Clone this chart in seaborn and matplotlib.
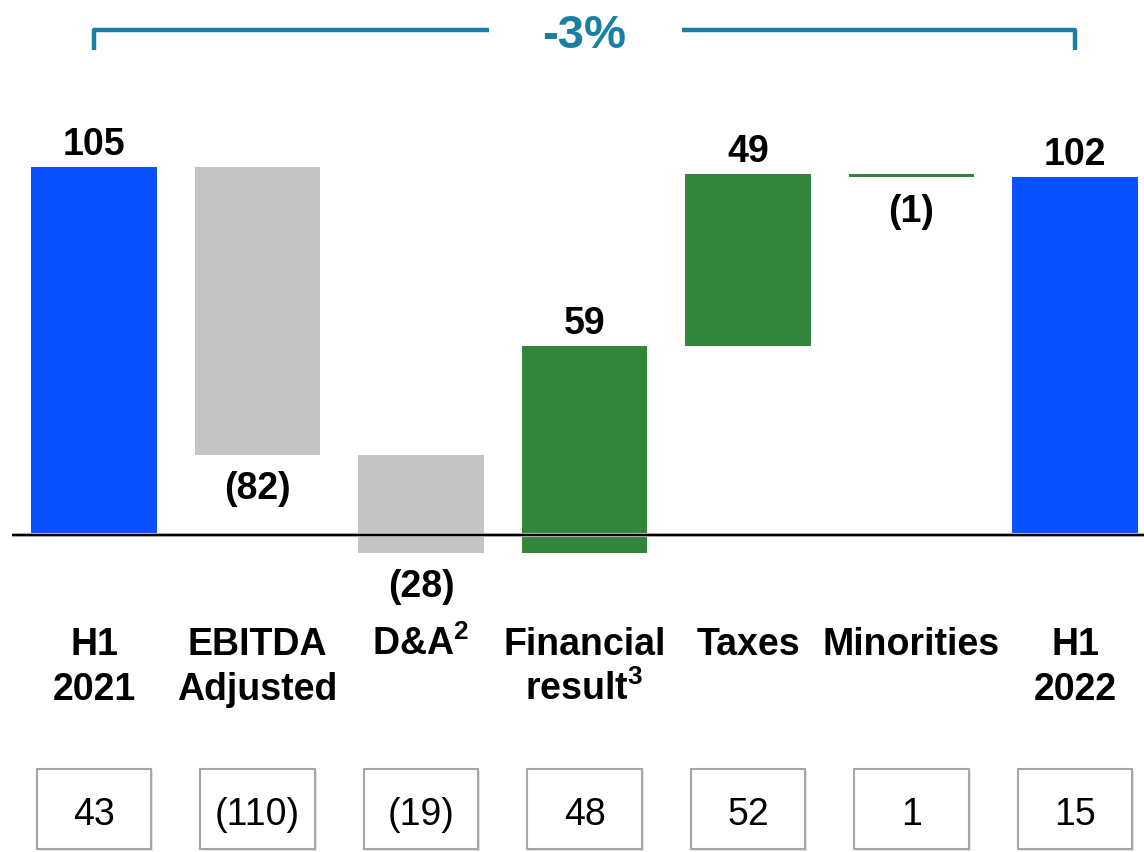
import numpy as np
import pandas as pd
import seaborn as sns
import matplotlib.pyplot as plt
from matplotlib.patches import Rectangle

# Data
categories = ['H1\n2021', 'EBITDA\nAdjusted', 'D&A$^{\\mathbf{2}}$', 'Financial\nresult$^{\\mathbf{3}}$',
              'Taxes', 'Minorities', 'H1\n2022']
deltas = [105, -82, -28, 59, 49, -1, 102]
is_total = [True, False, False, False, False, False, True]
box_labels = ['43', '(110)', '(19)', '48', '52', '1', '15']
change_label = '-3%'

colors = []
for d, t in zip(deltas, is_total):
    if t:
        colors.append('#0a52ff')
    elif d < 0 and abs(d) > 5:
        colors.append('#c4c4c4')
    else:
        colors.append('#33853a')

# waterfall bottoms
bottoms = []
running = 0
for d, t in zip(deltas, is_total):
    if t:
        bottoms.append(0)
        running = d
    else:
        bottoms.append(running)
        running += d

df = pd.DataFrame({'cat': categories, 'delta': deltas})

sns.set_theme(style='white')
plt.rcParams['font.family'] = ['Liberation Sans', 'DejaVu Sans']
plt.rcParams['mathtext.fontset'] = 'custom'
plt.rcParams['mathtext.rm'] = 'Liberation Sans'
plt.rcParams['mathtext.bf'] = 'Liberation Sans:bold'

fig = plt.figure(figsize=(11.44, 8.53), dpi=100)
ax = fig.add_axes([0, 0, 1, 1])

sns.barplot(data=df, x='cat', y='delta', hue='cat', palette=colors,
            dodge=False, legend=False, width=0.77, saturation=1, ax=ax)

for patch, b in zip(ax.patches, bottoms):
    patch.set_y(b)
    patch.set_linewidth(0)

ax.set_xlim(-0.575, 6.422)
ax.set_ylim(-90.2, 152.85)
ax.axis('off')

# baseline
ax.plot([-0.5, 6.5], [0, 0], color='#bbbbbb', lw=3, zorder=2, solid_capstyle='butt')
ax.plot([-0.5, 6.5], [0, 0], color='black', lw=1.6, zorder=3, solid_capstyle='butt')

# value labels
for i, (d, b) in enumerate(zip(deltas, bottoms)):
    top = b + d if d > 0 else b
    low = b if d > 0 else b + d
    if d > 0:
        ax.text(i, top + 3.7, f'{d}', ha='center', va='baseline',
                fontsize=27, fontweight='bold', color='black')
    else:
        ax.text(i, low - 12.3, f'({abs(d)})', ha='center', va='baseline',
                fontsize=27, fontweight='bold', color='black')

# category labels
for i, cat in enumerate(categories):
    for j, line in enumerate(cat.split('\n')):
        ax.text(i, -33.8 - j * 12.8, line, ha='center', va='baseline',
                fontsize=27, fontweight='bold', color='black')

# boxes below
for i, lab in enumerate(box_labels):
    ax.add_patch(Rectangle((i - 0.35 + 0.012, -89.3 - 0.6), 0.70, 22.8,
                           facecolor='#e4e4e4', edgecolor='none', zorder=1))
    ax.add_patch(Rectangle((i - 0.35, -89.3), 0.70, 22.8,
                           facecolor='white', edgecolor='#a6a6a6', lw=1.5, zorder=2))
    ax.text(i, -79.3, lab, ha='center', va='center', fontsize=27, color='black', zorder=3)

# bracket
bc = '#1b7fa3'
ax.plot([0, 0, 2.416], [138.3, 144.0, 144.0], color=bc, lw=3.2,
        solid_joinstyle='round', solid_capstyle='butt')
ax.plot([3.596, 6, 6], [144.0, 144.0, 138.3], color=bc, lw=3.2,
        solid_joinstyle='round', solid_capstyle='butt')
ax.text(3.0, 142.6, change_label, ha='center', va='center',
        fontsize=34, fontweight='bold', color=bc)

fig.savefig('out.png', dpi=100)
